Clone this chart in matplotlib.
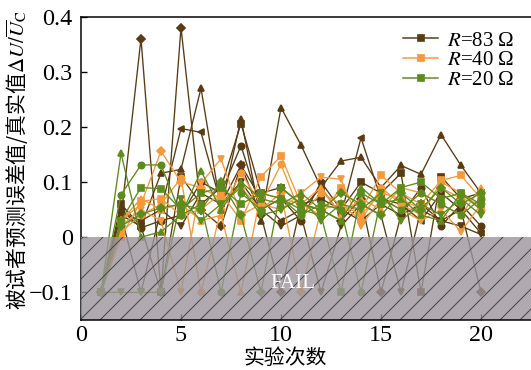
import numpy as np
import matplotlib.pyplot as plt
from matplotlib.lines import Line2D

plt.rcParams['font.family'] = ['Liberation Serif', 'DejaVu Serif']
plt.rcParams['mathtext.fontset'] = 'stix'
plt.rcParams['hatch.linewidth'] = 0.6

trials = np.arange(1, 21)

# R = 83 ohm, one list per subject
r83_D = [-0.1, 0.035, 0.36, -0.1, 0.38, 0.05, 0.02, 0.13, 0.04, -0.1, 0.06, 0.05, 0.03, 0.07, -0.1, 0.04, 0.06, 0.03, 0.05, -0.1]
r83_up = [-0.1, 0.04, 0.02, 0.116, 0.123, 0.27, 0.05, 0.215, 0.03, 0.235, 0.167, 0.09, 0.138, 0.145, 0.09, 0.13, 0.114, 0.186, 0.13, 0.08]
r83_s = [-0.1, 0.06, 0.02, -0.1, 0.11, 0.06, 0.09, 0.206, 0.08, 0.09, 0.06, 0.07, 0.05, 0.10, 0.08, 0.116, -0.1, 0.11, 0.07, 0.08]
r83_o = [-0.1, 0.05, 0.017, 0.03, 0.04, 0.10, 0.08, 0.166, 0.05, 0.07, 0.03, 0.10, 0.05, 0.03, 0.06, 0.04, 0.09, 0.02, 0.06, 0.02]
r83_dn = [-0.1, 0.04, -0.1, 0.05, 0.02, 0.08, 0.06, 0.10, 0.05, 0.02, 0.04, -0.1, 0.02, 0.06, 0.04, -0.1, 0.05, 0.03, 0.02, 0.005]
r83_lt = [-0.1, 0.045, 0.03, 0.05, 0.197, 0.19, 0.06, 0.13, 0.07, 0.03, 0.05, 0.09, 0.04, 0.18, 0.07, 0.06, 0.03, 0.08, 0.05, 0.007]

# R = 40 ohm
r40_D = [-0.1, 0.03, 0.06, 0.156, 0.10, 0.09, 0.07, 0.09, 0.05, 0.08, -0.1, 0.05, 0.06, 0.04, 0.08, 0.07, 0.05, 0.09, 0.07, 0.06]
r40_o = [-0.1, 0.01, 0.04, 0.06, 0.107, -0.1, 0.05, 0.116, 0.06, 0.132, 0.04, 0.08, 0.06, 0.03, 0.09, 0.06, 0.04, 0.10, 0.08, 0.05]
r40_dn = [-0.1, 0.02, 0.05, 0.03, -0.1, 0.098, 0.142, 0.04, 0.06, 0.05, 0.08, 0.109, 0.105, 0.02, 0.07, 0.05, 0.03, 0.05, 0.01, 0.06]
r40_s = [-0.1, 0.00, 0.065, 0.07, 0.04, 0.05, 0.08, 0.03, 0.11, 0.147, 0.06, 0.04, 0.09, 0.05, 0.112, 0.08, 0.06, 0.103, 0.112, 0.07]
r40_up = [-0.1, 0.03, 0.07, 0.05, 0.06, 0.03, 0.04, -0.1, 0.08, 0.07, 0.06, 0.09, 0.04, 0.07, 0.05, 0.09, 0.08, 0.06, 0.04, 0.09]

# R = 20 ohm
r20_up = [-0.1, 0.152, 0.00, 0.01, 0.04, 0.12, 0.05, 0.10, 0.07, 0.06, 0.08, 0.05, 0.03, 0.09, 0.06, 0.07, 0.04, 0.03, 0.08, 0.05]
r20_o = [-0.1, 0.077, 0.131, 0.131, 0.04, 0.06, -0.1, 0.08, 0.05, 0.07, 0.04, 0.06, 0.05, -0.1, 0.07, 0.05, 0.08, 0.06, 0.04, 0.07]
r20_s = [-0.1, 0.03, 0.09, 0.088, 0.05, 0.08, 0.09, 0.06, 0.08, 0.07, 0.05, 0.04, -0.1, 0.08, 0.06, 0.09, 0.10, 0.07, 0.08, 0.06]
r20_D = [-0.1, 0.02, 0.042, 0.053, 0.06, 0.05, 0.10, 0.04, -0.1, 0.09, 0.06, 0.05, 0.08, 0.06, 0.04, 0.08, 0.05, 0.09, 0.06, 0.08]
r20_dn = [-0.1, -0.1, -0.1, -0.1, 0.07, 0.03, 0.06, 0.09, 0.04, 0.05, 0.07, 0.03, 0.06, 0.05, 0.08, 0.03, 0.06, 0.04, 0.07, 0.04]

brown = '#5a3b12'
orange = '#f7993a'
green = '#5b8c1c'

groups = [
    (brown, [(r83_D, 'D'), (r83_up, '^'), (r83_s, 's'), (r83_o, 'o'), (r83_dn, 'v'), (r83_lt, '<')]),
    (orange, [(r40_D, 'D'), (r40_o, 'o'), (r40_dn, 'v'), (r40_s, 's'), (r40_up, '^')]),
    (green, [(r20_up, '^'), (r20_o, 'o'), (r20_s, 's'), (r20_D, 'D'), (r20_dn, 'v')]),
]
legend_labels = [r'$R$=83 Ω', r'$R$=40 Ω', r'$R$=20 Ω']

fig = plt.figure(figsize=(531 / 120, 370 / 120), dpi=120)
ax = fig.add_axes([81 / 531, 50 / 370, 450 / 531, 303.5 / 370])

for color, series in groups:
    for vals, mk in series:
        ax.plot(trials, vals, color=color, marker=mk, markersize=3.8, linewidth=0.8, zorder=2)

# failed region
ax.axhspan(-0.15, 0, facecolor='#9c959c', alpha=0.8, linewidth=0, zorder=3)
ax.axhspan(-0.15, 0, facecolor='none', edgecolor='#444444', hatch='//', linewidth=0, zorder=3)
ax.text(9.45, -0.083, 'FAIL', color='white', fontsize=12.5, va='center', ha='left', zorder=4)

ax.set_xlim(0, 22.5)
ax.set_ylim(-0.15, 0.4)
ax.set_xticks([0, 5, 10, 15, 20])
ax.set_yticks([-0.1, 0, 0.1, 0.2, 0.3, 0.4])
ax.set_yticklabels(['\u22120.1', '0', '0.1', '0.2', '0.3', '0.4'])
ax.tick_params(direction='in', length=3.5, width=0.8, labelsize=14.5, pad=5)
ax.tick_params(axis='x', pad=3)
ax.spines['right'].set_visible(False)
for s in ['left', 'top', 'bottom']:
    ax.spines[s].set_linewidth(0.9)
ax.spines['bottom'].set_zorder(5)

ax.set_xlabel('实验次数', family=['Noto Sans CJK SC', 'DejaVu Sans'], fontsize=12.5)
ax.xaxis.set_label_coords((285 - 81) / 450, (320 - 347) / 303.5)
ax.set_ylabel(r'被试者预测误差值/真实值$\Delta U/\overline{U}_{\mathrm{C}}$',
              family=['Noto Sans CJK SC', 'DejaVu Sans'], fontsize=12.5)
ax.yaxis.set_label_coords((31 - 81) / 450, (320 - 160) / 303.5)

handles = [Line2D([0], [0], color=c, marker='s', markersize=3.8, linewidth=0.9) for c, _ in groups]
ax.legend(handles, legend_labels, loc='upper right', bbox_to_anchor=(0.995, 1.0), frameon=False,
          fontsize=12.5, handlelength=1.7, handletextpad=0.4, labelspacing=0.0, borderpad=0.2)

fig.savefig('out.png', dpi=120)
